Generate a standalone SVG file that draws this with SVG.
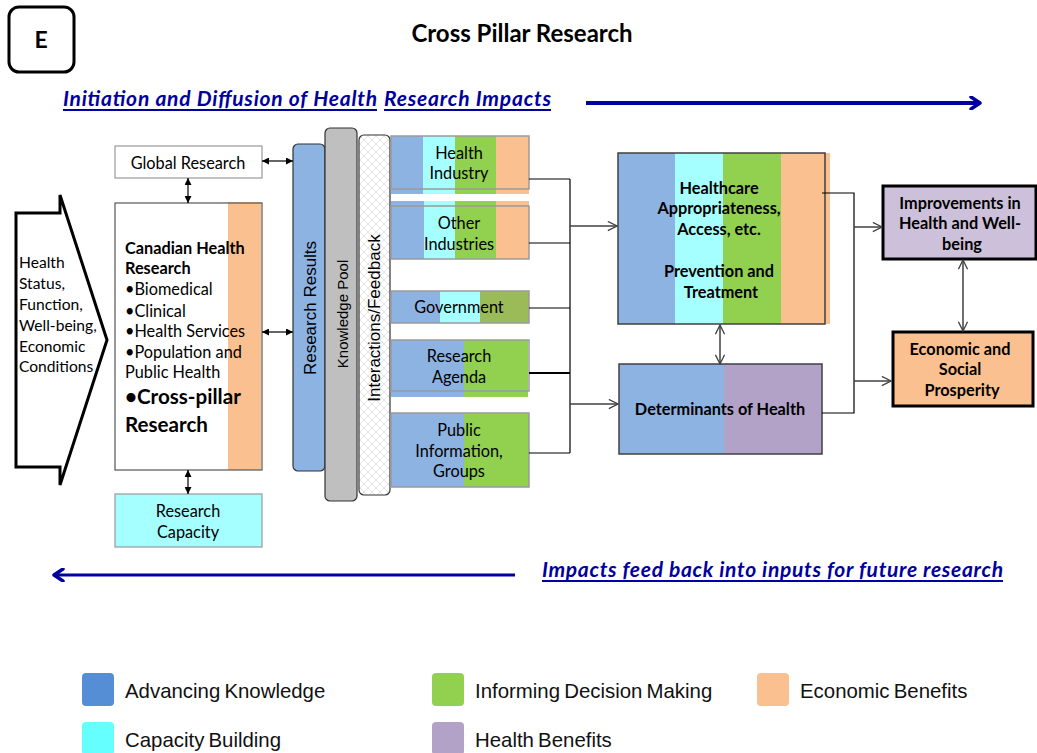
<svg xmlns="http://www.w3.org/2000/svg" width="1037" height="753" viewBox="0 0 1037 753">
  <style>
    .c { font-family: Lato, "Liberation Sans", sans-serif; fill: #000; }
    .b { font-weight: bold; }
    .a { font-family: "Liberation Sans", Arial, sans-serif; fill: #000; }
    .mid { text-anchor: middle; }
    .t { font-size: 16.3px; }
    .lnk { font-family: Lato, "Liberation Sans", sans-serif; font-style: italic; font-weight: bold; fill: #0000a0; font-size: 21px; }
    .ul { stroke: #0000a0; stroke-width: 2; }
    .conn { fill: none; stroke: #000; stroke-width: 1.2; }
    .gconn { fill: none; stroke: #404040; stroke-width: 1.5; }
    .blue { fill: #8db3e2; }
    .cyan { fill: #a6ffff; }
    .green { fill: #92d050; }
    .orange { fill: #fac090; }
    .olive { fill: #9bbb59; }
    .purple { fill: #b2a2c7; }
    .frame { fill: none; stroke: #9a9a9a; stroke-width: 1.5; }
    .leg { font-family: "Liberation Sans", Arial, sans-serif; font-size: 20.4px; fill: #111; word-spacing: -1.5px; }
  </style>
  <defs>
    <marker id="fill" viewBox="0 0 10 10" refX="10" refY="5" markerWidth="7" markerHeight="7" orient="auto-start-reverse" markerUnits="userSpaceOnUse">
      <path d="M0,0 L10,5 L0,10 Z" fill="#000"/>
    </marker>
    <marker id="open" viewBox="0 0 12 12" refX="11" refY="6" markerWidth="11" markerHeight="11" orient="auto-start-reverse" markerUnits="userSpaceOnUse">
      <path d="M1,1 L11,6 L1,11" fill="none" stroke="#404040" stroke-width="1.4"/>
    </marker>
    <marker id="bigBlue" viewBox="0 0 14 14" refX="12" refY="7" markerWidth="14" markerHeight="14" orient="auto" markerUnits="userSpaceOnUse">
      <path d="M3,1 L12,7 L3,13" fill="none" stroke="#0000a0" stroke-width="3.5" stroke-linecap="round" stroke-linejoin="round"/>
    </marker>
    <pattern id="hatch" width="8" height="8" patternUnits="userSpaceOnUse">
      <rect width="8" height="8" fill="#fff"/>
      <path d="M0,0 L8,8 M8,0 L0,8" stroke="#e4e4e4" stroke-width="1"/>
    </pattern>
  </defs>

  <!-- header -->
  <g id="label-e">
    <rect x="9" y="7" width="65" height="65" rx="10" fill="#fff" stroke="#000" stroke-width="3"/>
    <text class="c b mid" x="41" y="48" font-size="23">E</text>
  </g>
  <text class="c b mid" x="522" y="42" font-size="24">Cross Pillar Research</text>

  <!-- direction banners -->
  <g id="banner-top">
    <text class="lnk" x="63" y="106" textLength="314" lengthAdjust="spacing">Initiation and Diffusion of Health</text>
    <text class="lnk" x="384" y="106" textLength="167" lengthAdjust="spacing">Research Impacts</text>
    <line class="ul" x1="63" y1="110" x2="377" y2="110"/>
    <line class="ul" x1="384" y1="110" x2="551" y2="110"/>
    <line x1="586" y1="103" x2="980" y2="103" stroke="#0000a0" stroke-width="4" marker-end="url(#bigBlue)"/>
  </g>
  <g id="banner-bottom">
    <text class="lnk" x="542" y="577" textLength="461" lengthAdjust="spacing">Impacts feed back into inputs for future research</text>
    <line class="ul" x1="542" y1="581" x2="1003" y2="581"/>
    <line x1="515" y1="575" x2="54" y2="575" stroke="#0000a0" stroke-width="3" marker-end="url(#bigBlue)"/>
  </g>

  <!-- context arrow -->
  <g id="context">
    <polygon points="16,213 60,213 60,195 107,340 60,485 60,467 16,467" fill="#fff" stroke="#000" stroke-width="3" stroke-linejoin="miter"/>
    <text class="c" font-size="15.6">
      <tspan x="19" y="268">Health</tspan>
      <tspan x="19" y="289">Status,</tspan>
      <tspan x="19" y="310">Function,</tspan>
      <tspan x="19" y="331">Well-being,</tspan>
      <tspan x="19" y="352">Economic</tspan>
      <tspan x="19" y="372">Conditions</tspan>
    </text>
  </g>

  <g id="global-research">
    <rect x="115" y="146" width="147" height="32" fill="#fff" stroke="#999" stroke-width="1.2"/>
    <text class="c t mid" x="188" y="169">Global Research</text>
  </g>

  <g id="canadian-research">
    <rect x="115" y="203" width="147" height="267" fill="#fff"/>
    <rect x="228" y="202" width="33" height="268" class="orange"/>
    <rect x="115" y="203" width="147" height="267" fill="none" stroke="#555" stroke-width="1.2"/>
    <text class="c t">
      <tspan class="b" x="125" y="254">Canadian Health</tspan>
      <tspan class="b" x="125" y="274">Research</tspan>
      <tspan x="125" y="295">•Biomedical</tspan>
      <tspan x="125" y="317">•Clinical</tspan>
      <tspan x="125" y="337">•Health Services</tspan>
      <tspan x="125" y="358">•Population and</tspan>
      <tspan x="125" y="378">Public Health</tspan>
    </text>
    <text class="c b" font-size="20.6">
      <tspan x="125" y="404">•Cross-pillar</tspan>
      <tspan x="125" y="432">Research</tspan>
    </text>
  </g>

  <g id="research-capacity">
    <rect x="115" y="494" width="147" height="53" class="cyan" stroke="#999" stroke-width="1.2"/>
    <text class="c t mid" x="188" y="517">Research</text>
    <text class="c t mid" x="188" y="538">Capacity</text>
  </g>

  <!-- vertical bars -->
  <g id="research-results">
    <rect x="293" y="144" width="32" height="327" rx="5" class="blue" stroke="#333" stroke-width="1.2"/>
    <text class="a mid" font-size="17" transform="translate(315.5,308) rotate(-90)">Research  Results</text>
  </g>
  <g id="knowledge-pool">
    <rect x="325" y="128" width="32" height="373" rx="5" fill="#bfbfbf" stroke="#333" stroke-width="1.2"/>
    <text class="a mid" font-size="15" transform="translate(347.5,314) rotate(-90)">Knowledge Pool</text>
  </g>
  <g id="interactions">
    <rect x="359" y="135" width="31" height="360" rx="5" fill="url(#hatch)" stroke="#333" stroke-width="1.2"/>
    <text class="a mid" font-size="17" transform="translate(380,318) rotate(-90)">Interactions/Feedback</text>
  </g>

  <!-- stakeholder boxes -->
  <g id="health-industry">
    <rect x="391" y="136" width="32" height="58" class="blue"/>
    <rect x="423" y="136" width="32" height="58" class="cyan"/>
    <rect x="455" y="136" width="41" height="58" class="green"/>
    <rect x="496" y="136" width="33" height="58" class="orange"/>
    <rect x="391" y="136" width="138" height="53" class="frame"/>
    <text class="c t mid" x="459" y="159">Health</text>
    <text class="c t mid" x="459" y="179">Industry</text>
  </g>
  <g id="other-industries">
    <rect x="391" y="201" width="33" height="58" class="blue"/>
    <rect x="424" y="201" width="31" height="58" class="cyan"/>
    <rect x="455" y="201" width="41" height="58" class="green"/>
    <rect x="496" y="201" width="33" height="58" class="orange"/>
    <rect x="391" y="206" width="138" height="53" class="frame"/>
    <text class="c t mid" x="459" y="229">Other</text>
    <text class="c t mid" x="459" y="250">Industries</text>
  </g>
  <g id="government">
    <rect x="391" y="291" width="49" height="32" class="blue"/>
    <rect x="440" y="291" width="40" height="32" class="cyan"/>
    <rect x="480" y="291" width="49" height="32" class="olive"/>
    <rect x="391" y="291" width="138" height="32" class="frame"/>
    <text class="c t mid" x="459" y="313">Government</text>
  </g>
  <g id="research-agenda">
    <rect x="391" y="340" width="73" height="57" class="blue"/>
    <rect x="464" y="340" width="64" height="57" class="green"/>
    <rect x="391" y="340" width="138" height="51" class="frame"/>
    <text class="c t mid" x="459" y="362">Research</text>
    <text class="c t mid" x="459" y="383">Agenda</text>
  </g>
  <g id="public-information">
    <rect x="391" y="413" width="73" height="74" class="blue"/>
    <rect x="464" y="413" width="65" height="74" class="green"/>
    <rect x="391" y="413" width="138" height="74" class="frame"/>
    <text class="c t mid" x="459" y="436">Public</text>
    <text class="c t mid" x="459" y="457">Information,</text>
    <text class="c t mid" x="459" y="477">Groups</text>
  </g>

  <!-- outcome boxes -->
  <g id="healthcare">
    <rect x="618" y="153" width="57" height="171" class="blue"/>
    <rect x="675" y="153" width="48" height="171" class="cyan"/>
    <rect x="723" y="153" width="58" height="171" class="green"/>
    <rect x="781" y="153" width="49" height="171" class="orange"/>
    <rect x="618" y="153" width="207" height="171" fill="none" stroke="#404040" stroke-width="1.5"/>
    <text class="c b t mid">
      <tspan x="721" y="194">Healthcare</tspan>
      <tspan x="721" y="214">Appropriateness,</tspan>
      <tspan x="721" y="235">Access, etc.</tspan>
      <tspan x="721" y="277">Prevention and</tspan>
      <tspan x="721" y="298">Treatment</tspan>
    </text>
  </g>
  <g id="determinants">
    <rect x="619" y="364" width="105" height="90" class="blue"/>
    <rect x="724" y="364" width="98" height="90" class="purple"/>
    <rect x="619" y="364" width="203" height="90" fill="none" stroke="#404040" stroke-width="1.5"/>
    <text class="c b t mid" x="720" y="415">Determinants of Health</text>
  </g>
  <g id="improvements">
    <rect x="883" y="186" width="153" height="73" fill="#ccc0da" stroke="#000" stroke-width="3"/>
    <text class="c b t mid">
      <tspan x="962" y="209">Improvements in</tspan>
      <tspan x="962" y="229">Health and Well-</tspan>
      <tspan x="962" y="250">being</tspan>
    </text>
  </g>
  <g id="prosperity">
    <rect x="893" y="332" width="140" height="74" class="orange" stroke="#000" stroke-width="3"/>
    <text class="c b t mid">
      <tspan x="962" y="355">Economic  and</tspan>
      <tspan x="962" y="375">Social</tspan>
      <tspan x="962" y="396">Prosperity</tspan>
    </text>
  </g>

  <!-- connectors -->
  <g id="connectors">
    <line class="conn" x1="262" y1="161" x2="293" y2="161" marker-start="url(#fill)" marker-end="url(#fill)"/>
    <line class="conn" x1="188" y1="178" x2="188" y2="203" marker-start="url(#fill)" marker-end="url(#fill)"/>
    <line class="conn" x1="262" y1="332" x2="293" y2="332" marker-start="url(#fill)" marker-end="url(#fill)"/>
    <line class="conn" x1="188" y1="470" x2="188" y2="494" marker-start="url(#fill)" marker-end="url(#fill)"/>

    <path class="conn" d="M529,179 H570 M529,243 H570 M529,308 H570 M529,453 H570 M570,179 V453"/>
    <line x1="529" y1="373" x2="570" y2="373" stroke="#000" stroke-width="2.2"/>
    <line class="gconn" x1="570" y1="226" x2="617" y2="226" marker-end="url(#open)"/>
    <line class="gconn" x1="570" y1="404" x2="618" y2="404" marker-end="url(#open)"/>
    <line class="gconn" x1="720" y1="325" x2="720" y2="364" marker-start="url(#open)" marker-end="url(#open)"/>

    <path class="conn" d="M822,193 H854 V413 H822"/>
    <line class="gconn" x1="854" y1="227" x2="882" y2="227" marker-end="url(#open)"/>
    <line class="gconn" x1="854" y1="381" x2="891" y2="381" marker-end="url(#open)"/>
    <line class="gconn" x1="963" y1="260" x2="963" y2="331" marker-start="url(#open)" marker-end="url(#open)"/>
  </g>

  <!-- legend -->
  <g id="legend">
    <rect x="82" y="673" width="32" height="33" rx="4" fill="#558ed5"/>
    <text class="leg" x="125" y="698">Advancing Knowledge</text>
    <rect x="432" y="673" width="32" height="33" rx="4" fill="#92d050"/>
    <text class="leg" x="475" y="698">Informing Decision Making</text>
    <rect x="757" y="673" width="32" height="33" rx="4" fill="#fac090"/>
    <text class="leg" x="800" y="698">Economic Benefits</text>
    <rect x="82" y="722" width="32" height="33" rx="4" fill="#66ffff"/>
    <text class="leg" x="125" y="747">Capacity Building</text>
    <rect x="432" y="722" width="32" height="33" rx="4" fill="#b3a2c7"/>
    <text class="leg" x="475" y="747">Health Benefits</text>
  </g>
</svg>
